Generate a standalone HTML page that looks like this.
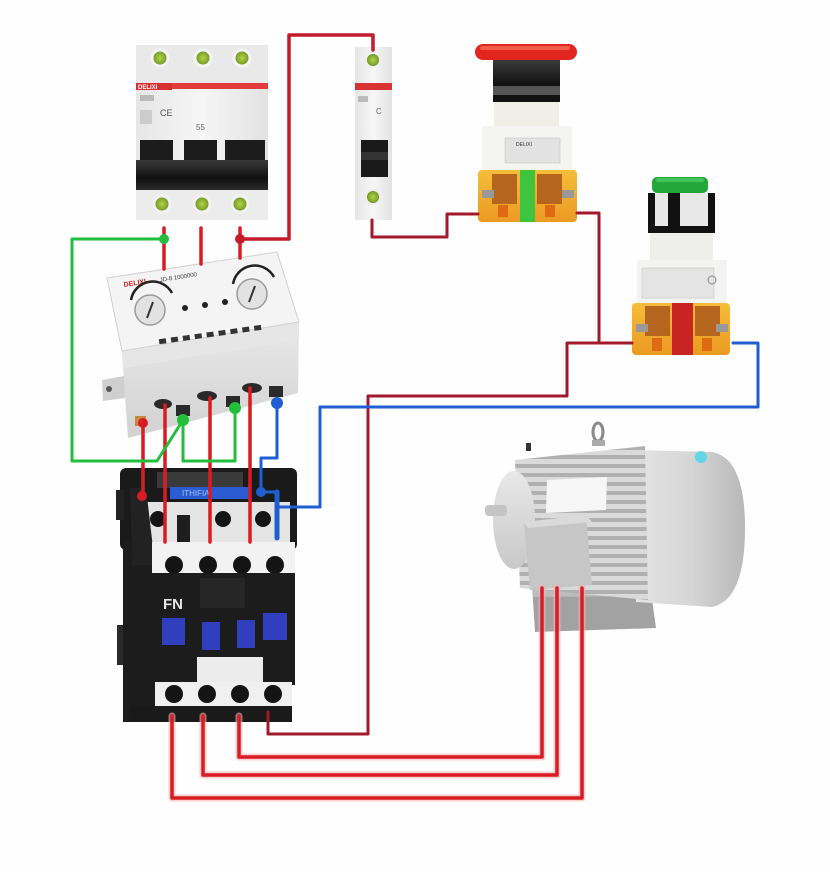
<!DOCTYPE html>
<html><head><meta charset="utf-8"><style>
html,body{margin:0;padding:0;background:#fff;}
svg{display:block;}
text{font-family:"Liberation Sans",sans-serif;}
</style></head><body>
<svg width="830" height="872" viewBox="0 0 830 872" xmlns="http://www.w3.org/2000/svg">
<defs>
<linearGradient id="gWhite" x1="0" y1="0" x2="1" y2="0"><stop offset="0" stop-color="#e6e6e6"/><stop offset="0.5" stop-color="#f6f6f6"/><stop offset="1" stop-color="#e2e2e2"/></linearGradient>
<linearGradient id="gBlack" x1="0" y1="0" x2="0" y2="1"><stop offset="0" stop-color="#3a3a3a"/><stop offset="0.6" stop-color="#111"/><stop offset="1" stop-color="#2a2a2a"/></linearGradient>
<linearGradient id="gRear" x1="0" y1="0" x2="1" y2="0"><stop offset="0" stop-color="#e4e4e4"/><stop offset="0.5" stop-color="#d6d6d6"/><stop offset="1" stop-color="#b8b8b8"/></linearGradient>
<linearGradient id="gFront" x1="0" y1="0" x2="0" y2="1"><stop offset="0" stop-color="#e8e8e8"/><stop offset="1" stop-color="#c8c8c8"/></linearGradient>
<linearGradient id="gOrange" x1="0" y1="0" x2="0" y2="1"><stop offset="0" stop-color="#f6bd3a"/><stop offset="1" stop-color="#eb9a22"/></linearGradient>
<linearGradient id="gRelayF" x1="0" y1="0" x2="0" y2="1"><stop offset="0" stop-color="#e8e8e8"/><stop offset="1" stop-color="#d2d2d2"/></linearGradient>
<pattern id="fins" width="10" height="9" patternUnits="userSpaceOnUse"><rect width="10" height="9" fill="#b0b0b0"/><rect width="10" height="5" fill="#dadada"/></pattern>
<radialGradient id="gTerm"><stop offset="0" stop-color="#b6d24a"/><stop offset="0.7" stop-color="#7fa52a"/><stop offset="1" stop-color="#5a7a20"/></radialGradient>
</defs>
<rect width="830" height="872" fill="#fefefe"/>

<!-- ===== 3-pole breaker ===== -->
<rect x="136" y="45" width="132" height="175" fill="url(#gWhite)"/>
<rect x="136" y="45" width="132" height="38" fill="#e9e9e9"/>
<g fill="url(#gTerm)" stroke="#f4f4f4" stroke-width="3">
<circle cx="160" cy="58" r="8"/><circle cx="203" cy="58" r="8"/><circle cx="242" cy="58" r="8"/>
</g>
<rect x="136" y="83" width="132" height="6" fill="#e23b3b"/>
<rect x="136" y="83" width="36" height="7" fill="#d83030"/>
<text x="138" y="89" font-size="6" fill="#fff" font-weight="bold">DELIXI</text>
<rect x="140" y="95" width="14" height="6" fill="#bbb"/><text x="160" y="116" font-size="9" fill="#555">CE</text>
<rect x="140" y="110" width="12" height="14" fill="#ccc"/><text x="196" y="130" font-size="8" fill="#666">55</text>
<rect x="140" y="140" width="33" height="30" fill="#1c1c1c"/>
<rect x="184" y="140" width="33" height="30" fill="#1c1c1c"/>
<rect x="225" y="140" width="40" height="30" fill="#1c1c1c"/>
<rect x="136" y="160" width="132" height="30" fill="url(#gBlack)"/>
<rect x="136" y="190" width="132" height="30" fill="#ececec"/>
<g fill="url(#gTerm)" stroke="#f2f2f2" stroke-width="3">
<circle cx="162" cy="204" r="8"/><circle cx="202" cy="204" r="8"/><circle cx="240" cy="204" r="8"/>
</g>

<!-- ===== 1-pole breaker ===== -->
<rect x="355" y="47" width="37" height="173" fill="url(#gWhite)"/>
<circle cx="373" cy="60" r="7" fill="url(#gTerm)" stroke="#eee" stroke-width="2"/>
<rect x="355" y="83" width="37" height="7" fill="#d93232"/>
<rect x="358" y="96" width="10" height="6" fill="#bbb"/><text x="376" y="114" font-size="8" fill="#666">C</text>
<rect x="361" y="140" width="27" height="37" fill="#1a1a1a"/>
<rect x="361" y="152" width="27" height="8" fill="#333"/>
<circle cx="373" cy="197" r="7" fill="url(#gTerm)" stroke="#eee" stroke-width="2"/>

<!-- ===== Emergency stop button ===== -->
<rect x="493" y="60" width="67" height="42" fill="url(#gBlack)"/>
<rect x="493" y="86" width="67" height="9" fill="#555"/>
<rect x="493" y="95" width="67" height="7" fill="#111"/>
<rect x="475" y="44" width="102" height="16" rx="8" fill="#e2261f"/>
<rect x="480" y="46" width="90" height="4" rx="2" fill="#f25a4a"/>
<rect x="494" y="102" width="65" height="24" fill="#efefe8"/>
<rect x="482" y="126" width="90" height="44" fill="#f4f4f2"/>
<rect x="505" y="138" width="55" height="25" fill="#e2e2e2" stroke="#bbb" stroke-width="0.5"/>
<text x="516" y="146" font-size="5" fill="#333">DELIXI</text>
<rect x="478" y="170" width="99" height="52" rx="4" fill="url(#gOrange)"/>
<rect x="492" y="174" width="25" height="30" fill="#b5651e"/>
<rect x="537" y="174" width="25" height="30" fill="#b5651e"/>
<rect x="520" y="170" width="15" height="52" fill="#3ec43e"/>
<rect x="482" y="190" width="12" height="8" fill="#999"/>
<rect x="562" y="190" width="12" height="8" fill="#999"/>
<rect x="498" y="205" width="10" height="12" fill="#e06a14"/>
<rect x="545" y="205" width="10" height="12" fill="#e06a14"/>

<!-- ===== Start button ===== -->
<rect x="648" y="193" width="67" height="40" fill="#e8e8e8"/>
<rect x="648" y="193" width="7" height="40" fill="#111"/>
<rect x="668" y="193" width="12" height="33" fill="#111"/>
<rect x="708" y="193" width="7" height="40" fill="#111"/>
<rect x="648" y="226" width="67" height="7" fill="#111"/>
<rect x="652" y="177" width="56" height="16" rx="5" fill="#23a63a"/>
<rect x="656" y="178" width="48" height="4" rx="2" fill="#42c45a"/>
<rect x="650" y="233" width="63" height="27" fill="#eeeeea"/>
<rect x="637" y="260" width="90" height="43" fill="#f3f3f1"/>
<rect x="642" y="268" width="72" height="30" fill="#e4e4e4" stroke="#bbb" stroke-width="0.5"/>
<circle cx="712" cy="280" r="4" fill="none" stroke="#888"/>
<rect x="632" y="303" width="98" height="52" rx="4" fill="url(#gOrange)"/>
<rect x="645" y="306" width="25" height="30" fill="#b5651e"/>
<rect x="695" y="306" width="25" height="30" fill="#b5651e"/>
<rect x="672" y="303" width="21" height="52" fill="#c82424"/>
<rect x="636" y="324" width="12" height="8" fill="#999"/>
<rect x="716" y="324" width="12" height="8" fill="#999"/>
<rect x="652" y="338" width="10" height="13" fill="#e06a14"/>
<rect x="702" y="338" width="10" height="13" fill="#e06a14"/>

<!-- ===== Motor ===== -->
<polygon points="532,585 650,585 656,628 535,632" fill="#a2a2a2"/>
<polygon points="532,585 650,585 650,596 533,597" fill="#bcbcbc"/>
<path d="M636,450 L712,452 Q745,458 745,528 Q745,600 712,607 L636,602 Z" fill="url(#gRear)"/>
<polygon points="515,460 645,446 648,600 520,588" fill="url(#fins)"/>
<ellipse cx="514" cy="520" rx="21" ry="49" fill="url(#gFront)"/>
<rect x="485" y="505" width="22" height="11" rx="4" fill="#c4c4c4"/>
<rect x="526" y="443" width="5" height="8" fill="#333"/>
<ellipse cx="598" cy="432" rx="5" ry="9" fill="none" stroke="#8a8a8a" stroke-width="3"/>
<rect x="592" y="440" width="13" height="6" fill="#aaa"/>
<circle cx="701" cy="457" r="6" fill="#62d6e8"/>
<polygon points="547,480 607,477 606,510 546,513" fill="#f6f6f6"/>
<polygon points="524,522 586,515 592,585 530,590" fill="#c6c6c6"/>
<polygon points="524,522 586,515 592,522 528,528" fill="#dadada"/>

<!-- ===== Overload relay ===== -->
<polygon points="122,351 299,322 298,393 128,438" fill="url(#gRelayF)"/>
<polygon points="122,351 299,322 299,340 123,368" fill="#e6e6e6"/>
<polygon points="107,278 277,252 299,322 122,351" fill="#f4f4f4" stroke="#d0d0d0" stroke-width="1"/>
<polygon points="102,380 124,376 125,398 103,401" fill="#cfcfcf"/>
<circle cx="109" cy="389" r="3" fill="#555"/>
<text x="0" y="0" font-size="7" font-weight="bold" fill="#d02020" transform="translate(124,287) rotate(-9)">DELIXI</text>
<text x="0" y="0" font-size="6" fill="#333" transform="translate(160,282) rotate(-9)">JD-8 1000000</text>
<circle cx="150" cy="310" r="15" fill="#e2e2e2" stroke="#9a9a9a" stroke-width="1.5"/>
<line x1="147" y1="318" x2="153" y2="302" stroke="#333" stroke-width="2"/>
<path d="M131,300 A22,22 0 0 1 172,293" fill="none" stroke="#222" stroke-width="2.5"/>
<circle cx="252" cy="294" r="15" fill="#e2e2e2" stroke="#9a9a9a" stroke-width="1.5"/>
<line x1="249" y1="302" x2="255" y2="286" stroke="#333" stroke-width="2"/>
<path d="M233,284 A22,22 0 0 1 274,277" fill="none" stroke="#222" stroke-width="2.5"/>
<circle cx="185" cy="308" r="3" fill="#222"/><circle cx="205" cy="305" r="3" fill="#222"/><circle cx="225" cy="302" r="3" fill="#222"/>
<g fill="#333" transform="rotate(-8 210 330)">
<rect x="158" y="332" width="7" height="5"/><rect x="170" y="332" width="7" height="5"/><rect x="182" y="332" width="7" height="5"/><rect x="194" y="332" width="7" height="5"/><rect x="206" y="332" width="7" height="5"/><rect x="218" y="332" width="7" height="5"/><rect x="230" y="332" width="7" height="5"/><rect x="242" y="332" width="7" height="5"/><rect x="254" y="332" width="7" height="5"/>
</g>
<rect x="135" y="416" width="11" height="10" fill="#c88a3a"/>
<ellipse cx="163" cy="404" rx="9" ry="5" fill="#2a2a2a"/>
<rect x="176" y="405" width="14" height="11" fill="#2a2a2a"/>
<ellipse cx="207" cy="396" rx="10" ry="5" fill="#2a2a2a"/>
<rect x="226" y="396" width="14" height="11" fill="#2a2a2a"/>
<ellipse cx="252" cy="388" rx="10" ry="5" fill="#2a2a2a"/>
<rect x="269" y="386" width="14" height="11" fill="#2a2a2a"/>

<!-- ===== Contactor ===== -->
<rect x="120" y="468" width="177" height="82" rx="6" fill="#1a1a1a"/>
<rect x="157" y="472" width="86" height="16" fill="#3a3a3a"/>
<rect x="116" y="490" width="8" height="30" fill="#222"/>
<rect x="123" y="540" width="32" height="182" fill="#1c1c1c"/>
<rect x="117" y="625" width="9" height="40" fill="#2a2a2a"/>
<rect x="170" y="487" width="80" height="12" fill="#2a5bd0"/>
<text x="182" y="496" font-size="8" fill="#9fc0ff">ITHIFIA</text>
<rect x="142" y="502" width="148" height="41" fill="#e4e4e4"/>
<polygon points="130,488 146,488 155,565 132,565" fill="#222"/>
<circle cx="158" cy="519" r="8" fill="#151515"/>
<rect x="177" y="515" width="13" height="28" fill="#1e1e1e"/>
<circle cx="223" cy="519" r="8" fill="#151515"/>
<circle cx="263" cy="519" r="8" fill="#151515"/>
<rect x="152" y="542" width="143" height="32" fill="#f2f2f2"/>
<g fill="#141414"><circle cx="174" cy="565" r="9"/><circle cx="208" cy="565" r="9"/><circle cx="242" cy="565" r="9"/><circle cx="275" cy="565" r="9"/></g>
<rect x="123" y="573" width="172" height="112" fill="#1c1c1c"/>
<rect x="200" y="578" width="45" height="30" fill="#262626"/>
<text x="163" y="609" font-size="15" font-weight="bold" fill="#e6e6e6">FN</text>
<g fill="#2f3fbe"><rect x="162" y="618" width="23" height="27"/><rect x="202" y="622" width="18" height="28"/><rect x="237" y="620" width="18" height="28"/><rect x="263" y="613" width="24" height="27"/></g>
<rect x="197" y="657" width="66" height="26" fill="#ececec"/>
<rect x="155" y="682" width="137" height="26" fill="#f0f0f0"/>
<g fill="#141414"><circle cx="174" cy="694" r="9"/><circle cx="207" cy="694" r="9"/><circle cx="240" cy="694" r="9"/><circle cx="273" cy="694" r="9"/></g>
<rect x="130" y="706" width="162" height="16" fill="#1a1a1a"/>

<!-- ===== Wires ===== -->
<g fill="none" stroke-linejoin="round" stroke-linecap="round">
<g stroke="#f7b0b0" stroke-width="7" opacity="0.6">
<path d="M172,716 V798 H582 V588"/><path d="M203,716 V775 H557 V588"/><path d="M239,716 V757 H542 V588"/>
</g>
<g stroke="#d81c24" stroke-width="3.5">
<path d="M172,716 V798 H582 V588"/><path d="M203,716 V775 H557 V588"/><path d="M239,716 V757 H542 V588"/>
<path d="M164,228 V269"/><path d="M201,228 V264"/><path d="M240,228 V258"/>
<path d="M143,423 V495"/><path d="M165,405 V542"/><path d="M210,398 V542"/><path d="M250,388 V542"/>
</g>
<path d="M240,239 H289 V35 H373 V50" stroke="#c41a2c" stroke-width="3.5"/>
<g stroke="#a3192c" stroke-width="3">
<path d="M372,220 V237 H447 V214 H478"/>
<path d="M577,213 H599 V343 H632"/>
<path d="M599,343 H567 V396 H368 V734 H268 V712"/>
</g>
<g stroke="#22bf3c" stroke-width="3">
<path d="M164,239 H72 V461 H157 L183,420"/>
<path d="M183,420 V461 H235 V408"/>
</g>
<path d="M277,403 V458 H261 V492 H278 V507 H320 V407 H758 V343 H733" stroke="#1f5fd2" stroke-width="3"/>
<path d="M277,492 V538" stroke="#1f5fd2" stroke-width="5"/>
</g>
<circle cx="164" cy="239" r="5" fill="#22bf3c"/>
<circle cx="240" cy="239" r="5" fill="#c41a2c"/>
<circle cx="183" cy="420" r="6" fill="#22bf3c"/>
<circle cx="235" cy="408" r="6" fill="#22bf3c"/>
<circle cx="143" cy="423" r="5" fill="#d81c24"/>
<circle cx="277" cy="403" r="6" fill="#1f5fd2"/>
<circle cx="142" cy="496" r="5" fill="#d81c24"/>
<circle cx="261" cy="492" r="5" fill="#1f5fd2"/>
</svg>
</body></html>
